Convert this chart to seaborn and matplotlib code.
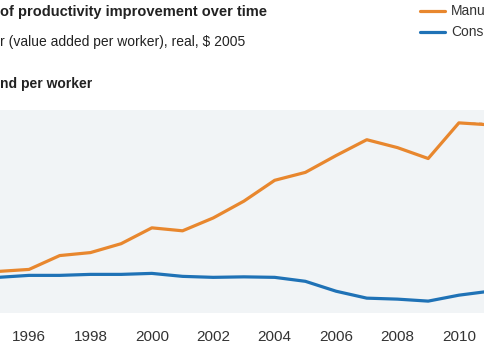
import pandas as pd
import seaborn as sns
import matplotlib.pyplot as plt

# Values (relative units, real $ 2005 per worker)
years = list(range(1995, 2012))
manufacturing = [42, 44, 58, 61, 70, 86, 83, 96, 113, 134, 142, 159, 175, 167, 156, 192, 190]
construction = [36, 38, 38, 39, 39, 40, 37, 36, 36.5, 36, 32, 22, 15, 14, 12, 18, 22]
tick_years = [1996, 1998, 2000, 2002, 2004, 2006, 2008, 2010]

df = pd.DataFrame({"Year": years, "Manufacturing": manufacturing, "Construction": construction})
long_df = df.melt(id_vars="Year", var_name="Sector", value_name="Value")

sns.set_style("white")
plt.rcParams["font.family"] = ["Liberation Sans", "DejaVu Sans"]

fig = plt.figure(figsize=(4.85, 3.6), dpi=100)
ax = fig.add_axes([0, 47 / 360, 1, 203 / 360])
ax.set_facecolor("#f1f4f6")

palette = {"Manufacturing": "#e8872e", "Construction": "#1f72b6"}
sns.lineplot(data=long_df, x="Year", y="Value", hue="Sector", palette=palette,
             linewidth=2.3, ax=ax, legend=False)

# dashed reference from the 2010 peak
ax.plot([2010, 2011], [manufacturing[15], manufacturing[15]], ls=(0, (2, 2)),
        color="#d8c4b4", lw=1.2, zorder=1)

ax.set_xlim(1995.055, 2010.85)
ax.set_ylim(0, 205)
ax.set_xticks(tick_years)
ax.set_xticklabels([str(y) for y in tick_years])
ax.set_yticks([])
ax.set_xlabel("")
ax.set_ylabel("")
ax.tick_params(axis="x", direction="in", length=4, width=0.8, color="#c8cdd0",
               pad=12, labelsize=11, labelcolor="#333333")
for s in ax.spines.values():
    s.set_visible(False)

# titles (cropped on the left in the original)
fig.text(0.0, 1 - 12 / 360, "of productivity improvement over time", fontsize=10.5,
         fontweight="bold", color="#222222", va="center")
fig.text(0.0, 1 - 42 / 360, "r (value added per worker), real, $ 2005", fontsize=10,
         color="#222222", va="center")
fig.text(0.0, 1 - 84 / 360, "nd per worker", fontsize=10,
         fontweight="bold", color="#222222", va="center")

# legend (cropped on the right in the original)
fig.lines.append(plt.Line2D([420 / 485, 445 / 485], [1 - 11 / 360, 1 - 11 / 360],
                            color=palette["Manufacturing"], lw=2.3, transform=fig.transFigure))
fig.lines.append(plt.Line2D([420 / 485, 445 / 485], [1 - 32 / 360, 1 - 32 / 360],
                            color=palette["Construction"], lw=2.3, transform=fig.transFigure))
fig.text(451 / 485, 1 - 11 / 360, "Manu", fontsize=10, color="#333333", va="center")
fig.text(451 / 485, 1 - 32 / 360, "Cons", fontsize=10, color="#333333", va="center")

fig.savefig("out.png", dpi=100)
